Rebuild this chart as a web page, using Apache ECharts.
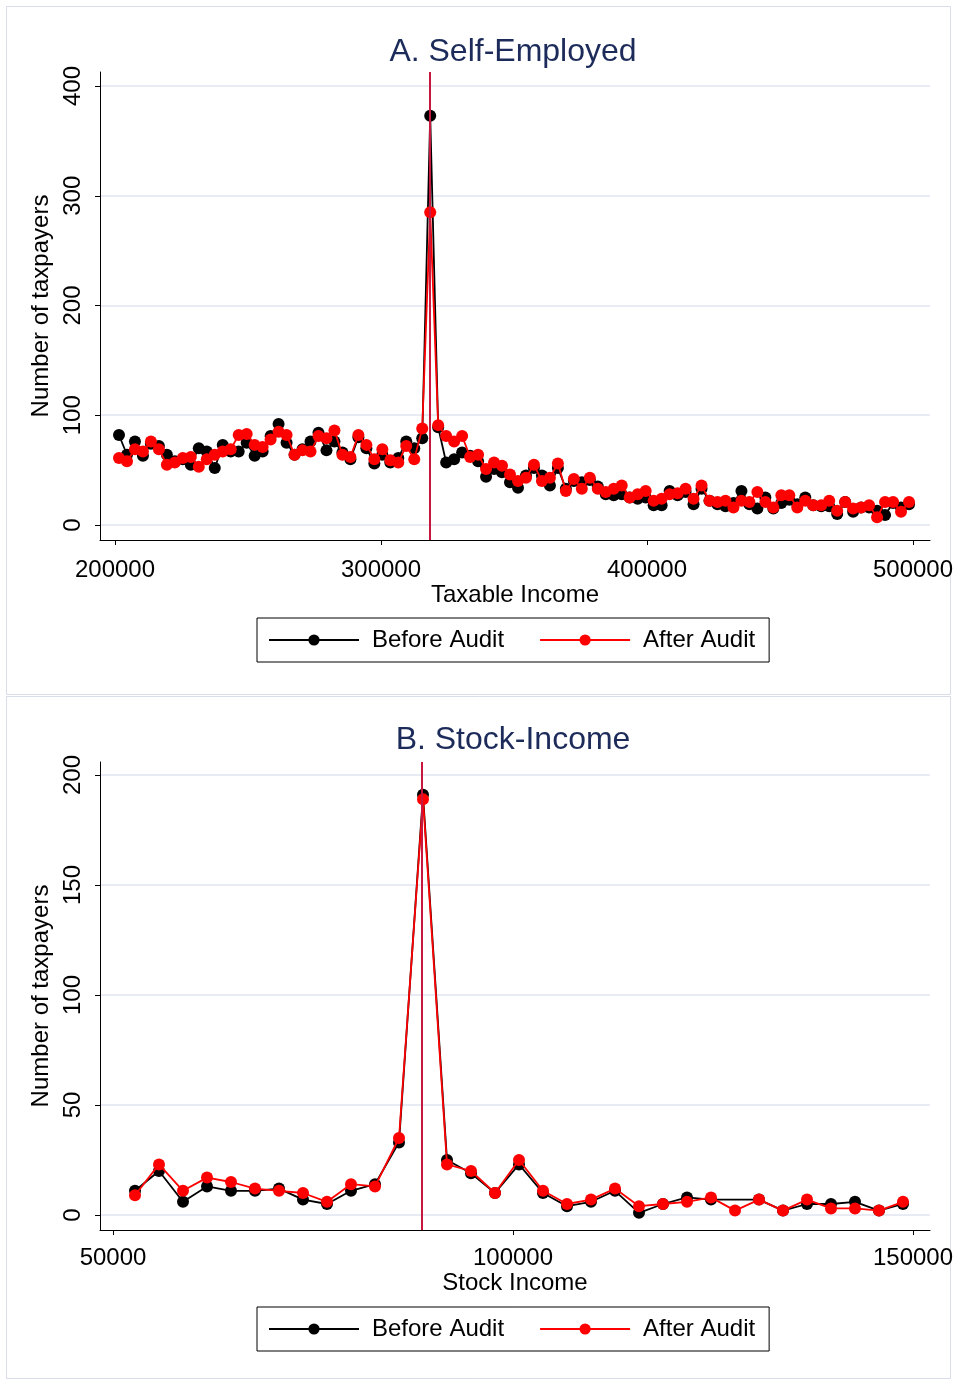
<!DOCTYPE html>
<html>
<head>
<meta charset="utf-8">
<script src="https://cdn.jsdelivr.net/npm/echarts@6/dist/echarts.min.js"></script>
<style>
html,body{margin:0;padding:0;background:#fff;}
#chart{width:954px;height:1380px;}
</style>
</head>
<body>
<div id="chart"></div>
<script>
// ---------- Panel A: Self-Employed ----------
const incomeA = [201500,204500,207500,210500,213500,216500,219500,222500,225500,228500,
231500,234500,237500,240500,243500,246500,249500,252500,255500,258500,
261500,264500,267500,270500,273500,276500,279500,282500,285500,288500,
291500,294500,297500,300500,303500,306500,309500,312500,315500,318500,
321500,324500,327500,330500,333500,336500,339500,342500,345500,348500,
351500,354500,357500,360500,363500,366500,369500,372500,375500,378500,
381500,384500,387500,390500,393500,396500,399500,402500,405500,408500,
411500,414500,417500,420500,423500,426500,429500,432500,435500,438500,
441500,444500,447500,450500,453500,456500,459500,462500,465500,468500,
471500,474500,477500,480500,483500,486500,489500,492500,495500,498500];
const beforeA = [82,64,76,63,74,72,64,58,60,55,
70,67,52,73,67,67,75,63,67,81,
92,75,64,69,76,84,68,76,66,60,
80,70,56,64,57,61,76,70,79,373,
89,57,60,66,63,58,44,51,48,39,
34,45,52,45,36,52,33,40,39,41,
35,28,27,28,25,24,25,18,18,31,
27,30,19,33,22,19,17,20,31,19,
15,25,15,20,23,19,25,18,17,17,
10,21,12,16,16,13,9,20,16,19];
const afterA = [61,58,69,67,76,69,55,57,61,62,
53,60,64,67,69,82,83,73,71,78,
85,82,64,68,67,81,79,86,64,62,
82,73,60,69,59,57,72,60,88,285,
91,81,76,81,62,64,51,57,54,46,
40,43,55,40,43,56,31,42,33,43,
33,30,33,36,25,28,31,22,24,28,
29,33,24,36,22,21,22,16,22,21,
30,21,16,27,27,16,22,18,18,22,
13,21,15,16,18,7,21,21,12,21];
const thresholdA = 318400;
const yTicksA = [0,100,200,300,400];
const xTicksA = [200000,300000,400000,500000];

// ---------- Panel B: Stock-Income ----------
const incomeB = [52750,55750,58750,61750,64750,67750,70750,73750,76750,79750,
82750,85750,88750,91750,94750,97750,100750,103750,106750,109750,
112750,115750,118750,121750,124750,127750,130750,133750,136750,139750,
142750,145750,148750];
const beforeB = [11,20,6,13,11,11,12,7,5,11,
14,33,191,25,19,10,23,10,4,6,
11,1,5,8,7,null,7,2,5,5,
6,2,5];
const afterB = [9,23,11,17,15,12,11,10,6,14,
13,35,189,23,20,10,25,11,5,7,
12,4,5,6,8,2,7,2,7,3,
3,2,6];
const thresholdB = 88650;
const yTicksB = [0,50,100,150,200];
const xTicksB = [50000,100000,150000];

const titles = ['A. Self-Employed','B. Stock-Income'];
const xNames = ['Taxable Income','Stock Income'];
const yName = 'Number of taxpayers';
const seriesNames = ['Before Audit','After Audit'];

// ---------- layout ----------
const FONT = '"Liberation Sans", Arial, Helvetica, sans-serif';
const pairs = (xs, ys) => xs.map((x, i) => [x, ys[i]]);
const stepOf = t => t[1] - t[0];

const panels = [
  {top: 72, height: 468, xMin: 194361, xMax: 506391, yMin: -13.67, yMax: 412.76,
   xTicks: xTicksA, yTicks: yTicksA, titleTop: 36, legendTop: 618,
   labelMargin: 18, nameGap: 38},
  {top: 762, height: 468, xMin: 48375, xMax: 152125, yMin: -6.82, yMax: 205.9,
   xTicks: xTicksB, yTicks: yTicksB, titleTop: 724, legendTop: 1307,
   labelMargin: 16, nameGap: 38}
];

const grids = panels.map(p => ({left: 100, width: 830, top: p.top, height: p.height,
  containLabel: false, outerBoundsMode: 'none'}));

const xAxes = panels.map((p, i) => ({
  type: 'value', gridIndex: i, min: p.xMin, max: p.xMax,
  minInterval: stepOf(p.xTicks), maxInterval: stepOf(p.xTicks),
  name: xNames[i], nameLocation: 'middle', nameGap: p.nameGap,
  nameTextStyle: {fontSize: 24, color: '#000', fontFamily: FONT},
  axisLine: {onZero: false, lineStyle: {color: '#000', width: 1}},
  axisTick: {show: true, length: 5, lineStyle: {color: '#000'}},
  axisLabel: {fontSize: 24, color: '#000', fontFamily: FONT, margin: p.labelMargin,
              showMinLabel: false, showMaxLabel: false,
              formatter: v => String(Math.round(v))},
  splitLine: {show: false}
}));

const yAxes = panels.map((p, i) => ({
  type: 'value', gridIndex: i, min: p.yMin, max: p.yMax,
  minInterval: stepOf(p.yTicks), maxInterval: stepOf(p.yTicks),
  name: yName, nameLocation: 'middle', nameGap: 36, nameRotate: 90,
  nameTextStyle: {fontSize: 24, color: '#000', fontFamily: FONT},
  axisLine: {show: true, onZero: false, lineStyle: {color: '#000', width: 1}},
  axisTick: {show: true, length: 5, lineStyle: {color: '#000'}},
  axisLabel: {fontSize: 24, color: '#000', fontFamily: FONT, rotate: 90, margin: 15,
              showMinLabel: false, showMaxLabel: false,
              formatter: v => String(Math.round(v))},
  splitLine: {show: true, showMinLine: false, showMaxLine: false,
              lineStyle: {color: '#e1e5ef', width: 1.5}}
}));

const dataSets = [
  {x: incomeA, before: beforeA, after: afterA, thr: thresholdA},
  {x: incomeB, before: beforeB, after: afterB, thr: thresholdB}
];

const series = [];
dataSets.forEach((d, i) => {
  series.push({
    type: 'line', name: '__thr' + i, xAxisIndex: i, yAxisIndex: i, data: [],
    z: 1, silent: true,
    markLine: {silent: true, symbol: 'none', label: {show: false},
      lineStyle: {color: '#c8173f', width: 2, type: 'solid'},
      data: [{xAxis: d.thr}]}
  });
  series.push({
    type: 'line', name: seriesNames[0], xAxisIndex: i, yAxisIndex: i,
    data: pairs(d.x, d.before), connectNulls: true, z: 2,
    symbol: 'circle', symbolSize: 12, showAllSymbol: true,
    itemStyle: {color: '#000'}, lineStyle: {color: '#000', width: 1.8},
    emphasis: {disabled: true}
  });
  series.push({
    type: 'line', name: seriesNames[1], xAxisIndex: i, yAxisIndex: i,
    data: pairs(d.x, d.after), connectNulls: true, z: 3,
    symbol: 'circle', symbolSize: 12, showAllSymbol: true,
    itemStyle: {color: '#ff0000'}, lineStyle: {color: '#ff0000', width: 1.8},
    emphasis: {disabled: true}
  });
});

const option = {
  animation: false,
  backgroundColor: '#ffffff',
  textStyle: {fontFamily: FONT},
  title: panels.map((p, i) => ({
    text: titles[i], left: 513, top: p.titleTop, textAlign: 'center', padding: 0,
    textStyle: {fontSize: 32, fontWeight: 'normal', color: '#1c2b5a', fontFamily: FONT}
  })),
  legend: panels.map(p => ({
    data: seriesNames, left: 257, top: p.legendTop, orient: 'horizontal',
    itemWidth: 90, itemHeight: 14, itemGap: 35,
    padding: [10, 14, 10, 11], borderColor: '#000', borderWidth: 1,
    backgroundColor: '#fff', selectedMode: false,
    textStyle: {fontSize: 24, color: '#000', fontFamily: FONT, padding: [0, 0, 0, 8]}
  })),
  grid: grids,
  xAxis: xAxes,
  yAxis: yAxes,
  graphic: [
    {type: 'rect', z: -10, silent: true, shape: {x: 6.5, y: 6.5, width: 944, height: 688},
     style: {fill: '#fff', stroke: '#d9dde9', lineWidth: 1}},
    {type: 'rect', z: -10, silent: true, shape: {x: 6.5, y: 696.5, width: 944, height: 682},
     style: {fill: '#fff', stroke: '#d9dde9', lineWidth: 1}}
  ],
  series: series
};

const chart = echarts.init(document.getElementById('chart'), null, {renderer: 'canvas'});
chart.setOption(option);
</script>
</body>
</html>
